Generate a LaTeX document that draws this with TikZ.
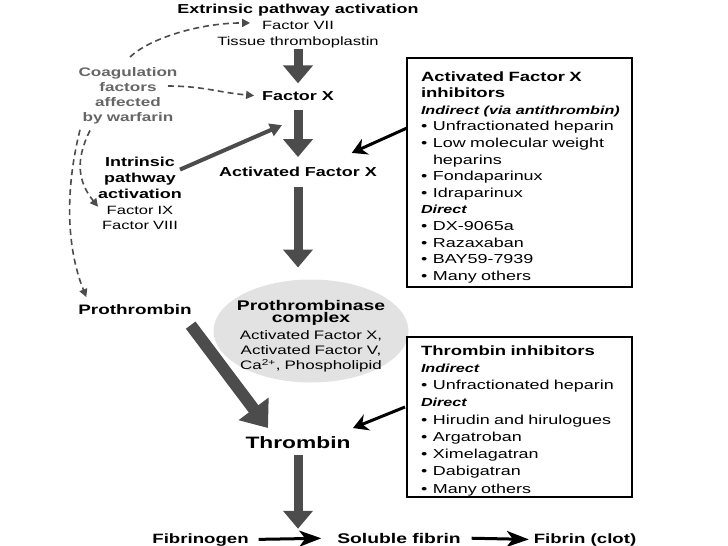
\documentclass[tikz,border=0pt]{standalone}
\usepackage{fontspec}
\setmainfont{Liberation Sans}[FakeStretch=1.38]
\usetikzlibrary{arrows.meta,calc,shapes.geometric}
\definecolor{dg}{HTML}{4C4C4C}
\definecolor{cg}{HTML}{666666}
\definecolor{eg}{HTML}{E2E2E2}
\newcommand{\bul}{\makebox[12pt][l]{•}}
\begin{document}
\begin{tikzpicture}[x=1pt,y=-1pt,
  every node/.style={inner sep=0pt,outer sep=0pt},
  bl/.style={font=\fontsize{13}{16}\selectfont\bfseries,anchor=base},
  rg/.style={font=\fontsize{12}{15}\selectfont,anchor=base},
  bigarrow/.style={draw=dg,line width=9pt,-{Triangle[width=29pt,length=18pt]}},
  diagarrow/.style={draw=dg,line width=12pt,-{Triangle[width=36pt,length=24pt]}},
  grayarrow/.style={draw=dg,line width=4pt,-{Triangle[width=13pt,length=12pt]}},
  blackarrow/.style={draw=black,line width=3pt,-{Stealth[width=17pt,length=15pt,inset=5pt]}},
  flowarrow/.style={draw=black,line width=3pt,-{Stealth[width=16pt,length=22pt,inset=6pt]}},
  dasharr/.style={draw=dg,line width=1.6pt,dash pattern=on 6pt off 4pt,-{Triangle[width=8pt,length=8pt]}},
  infobox/.style={draw=black,line width=1.3pt,anchor=north west},
]
\useasboundingbox (0,0) rectangle (728,546);

% main column
\node[bl] (extr) at (298,13) {Extrinsic pathway activation};
\node[rg] (f7) at (298,29) {Factor VII};
\node[rg] (tissue) at (298,45) {Tissue thromboplastin};
\node[bl] (fx) at (298,100) {Factor X};
\node[bl] (afx) at (298,176) {Activated Factor X};
\node[ellipse,fill=eg,minimum width=195pt,minimum height=103pt] (ell) at (311,331) {};
\node[anchor=base,text width=190pt,align=center,font=\fontsize{12.3}{15.3}\selectfont] (ellt) at (311,310)
  {{\fontsize{14}{15.3}\selectfont\bfseries Prothrombinase}\\[-2.7pt]
   {\fontsize{14}{15.3}\selectfont\bfseries complex}\\[1.2pt]
   Activated Factor X,\\ Activated Factor V,\\ Ca\textsuperscript{2+}, Phospholipid};
\node[bl,font=\fontsize{13.7}{16}\selectfont\bfseries] (proth) at (135,314) {Prothrombin};
\node[bl,font=\fontsize{16.5}{18}\selectfont\bfseries] (thr) at (298,448) {Thrombin};
\node[bl,font=\fontsize{13.5}{16}\selectfont\bfseries] (fibg) at (200.5,543) {Fibrinogen};
\node[bl,font=\fontsize{14}{16}\selectfont\bfseries] (sol) at (399,543) {Soluble fibrin};
\node[bl,font=\fontsize{13.5}{16}\selectfont\bfseries] (clot) at (585,543) {Fibrin (clot)};

% left side
\node[anchor=base,text width=110pt,align=center,text=cg,font=\fontsize{12.4}{15.3}\selectfont\bfseries] (coag) at (128,76)
  {Coagulation\\factors\\affected\\by warfarin};
\node[anchor=base,text width=90pt,align=center,font=\fontsize{13}{16.3}\selectfont\bfseries] (intr) at (140,166)
  {Intrinsic\\pathway\\activation};
\node[anchor=base,text width=90pt,align=center,font=\fontsize{12}{15}\selectfont] (f9) at (140,214)
  {Factor IX\\Factor VIII};

% boxes
\node[infobox,minimum width=225pt,minimum height=229pt] (b1) at (407,58) {};
\node[anchor=base west,text width=210pt,align=left,font=\fontsize{13}{16.6}\selectfont] (b1t) at (421,81)
  {{\fontsize{13.4}{16.6}\selectfont\bfseries Activated Factor X\\inhibitors}\\
   {\fontsize{11.7}{16.6}\selectfont\bfseries\itshape Indirect (via antithrombin)}\\
   \bul Unfractionated heparin\\
   \bul Low molecular weight\\
   \hspace*{12pt}heparins\\
   \bul Fondaparinux\\
   \bul Idraparinux\\
   {\fontsize{11.7}{16.6}\selectfont\bfseries\itshape Direct}\\
   \bul DX-9065a\\
   \bul Razaxaban\\
   \bul BAY59-7939\\
   \bul Many others};
\node[infobox,minimum width=225pt,minimum height=160pt] (b2) at (407,337) {};
\node[anchor=base west,text width=210pt,align=left,font=\fontsize{13}{17.25}\selectfont] (b2t) at (421,355)
  {{\fontsize{13.4}{17.25}\selectfont\bfseries Thrombin inhibitors}\\
   {\fontsize{11.7}{17.25}\selectfont\bfseries\itshape Indirect}\\
   \bul Unfractionated heparin\\
   {\fontsize{11.7}{17.25}\selectfont\bfseries\itshape Direct}\\
   \bul Hirudin and hirulogues\\
   \bul Argatroban\\
   \bul Ximelagatran\\
   \bul Dabigatran\\
   \bul Many others};

% big gray arrows
\draw[bigarrow,shorten <=1.4pt,shorten >=7.7pt] (tissue.south) -- (tissue.south |- fx.north);
\draw[bigarrow,shorten <=10pt,shorten >=9.5pt] (fx.south) -- (fx.south |- afx.north);
\draw[bigarrow,shorten <=11pt,shorten >=12pt] (afx.south) -- (afx.south |- ell.north);
\coordinate (m1) at ($(fibg.east)!0.5!(sol.west)$);
\draw[bigarrow,shorten <=7pt,shorten >=10pt] (thr.south) -- (thr.south |- m1);
\draw[diagarrow] ($(proth.south east)+(-1,11)$) -- ($(thr.north west)+(22.5,-8)$);

% flow arrows
\draw[flowarrow,shorten <=10pt,shorten >=16pt] (fibg.east) -- (sol.west);
\draw[flowarrow,shorten <=11pt,shorten >=5pt] (sol.east) -- (clot.west);

% inhibitor arrows
\draw[blackarrow] ($(b1.north west)+(0,70)$) -- ($(afx.north east)+(-25,-13.7)$);
\draw[blackarrow] ($(b2.north west)+(-2,70)$) -- ($(thr.north east)+(2.5,-8)$);

% intrinsic arrow
\draw[grayarrow] ($(intr.north east)+(-5,13)$) -- ($(fx.south)+(-16,25)$);

% dashed warfarin arrows
\draw[dasharr] ($(coag.north)+(2,-10)$) .. controls +(20,-19) and +(-50,0) .. ($(f7.west)+(-12,-2)$);
\draw[dasharr] ($(coag.north east)+(-15,19)$) .. controls +(35,0) and +(-35,-3) .. ($(fx.west)+(-8,0)$);
\draw[dasharr] ($(coag.south)+(-38,6)$) .. controls +(-15,30) and +(-20,-25) .. ($(f9.north west)+(3,1)$);
\draw[dasharr] ($(coag.south)+(-48,5.4)$) .. controls +(-15,60) and +(-20,-50) .. ($(proth.north west)+(8,-7)$);
\end{tikzpicture}
\end{document}
